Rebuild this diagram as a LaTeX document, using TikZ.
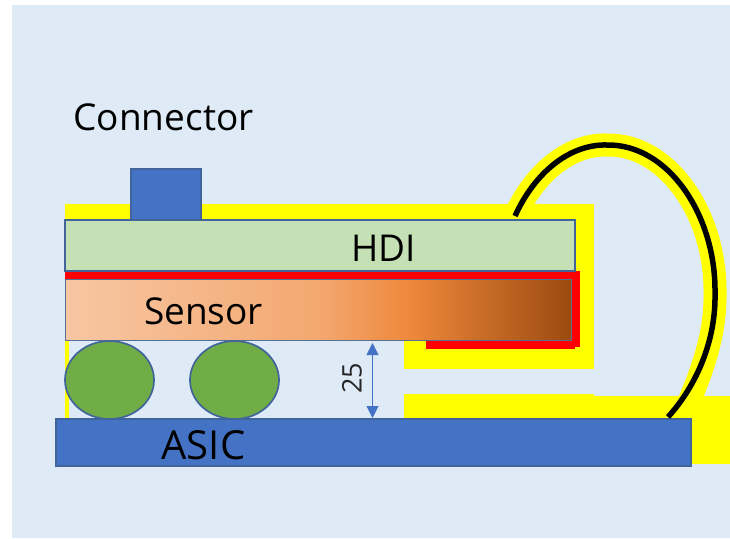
\documentclass[tikz,border=0pt]{standalone}
\usepackage{fontspec}
\setmainfont{Open Sans}
\usetikzlibrary{arrows.meta,calc,shapes.geometric}
\definecolor{panel}{HTML}{DEEAF6}
\definecolor{edgeblue}{HTML}{41659B}
\definecolor{hdigreen}{HTML}{C5E0B4}
\definecolor{asicblue}{HTML}{4472C4}
\definecolor{ballgreen}{HTML}{70AD47}
\definecolor{yel}{HTML}{FFFF00}
\definecolor{sensa}{HTML}{F7C6A3}
\definecolor{sensb}{HTML}{F3A870}
\definecolor{sensc}{HTML}{EE883C}
\definecolor{sensd}{HTML}{9C4A10}
\pgfdeclarehorizontalshading{sensorshade}{100bp}{
  color(0bp)=(sensa);
  color(25bp)=(sensa);
  color(50bp)=(sensb);
  color(59bp)=(sensc);
  color(75bp)=(sensd);
  color(100bp)=(sensd)}
\tikzset{
  x=1pt,y=-1pt,
  boxstyle/.style={draw=edgeblue,line width=1.7pt,inner sep=0pt,outer sep=0pt},
  lbl/.style={font=\fontsize{37}{42}\selectfont,text=black,inner sep=0pt},
  yelfill/.style={fill=yel,draw=none},
  redfill/.style={fill=red,draw=none},
}
\begin{document}
\begin{tikzpicture}
\useasboundingbox (0,0) rectangle (730,538);
\fill[white] (0,0) rectangle (730,538);
\fill[panel] (12,5) rectangle (730,538);
% yellow layers
\fill[yelfill] (64.5,204) rectangle (594,220);
\fill[yelfill] (404,204) rectangle (594,369);
\fill[yelfill] (64.5,340) rectangle (69,420);
\fill[yelfill] (404,394) rectangle (594,420);
\fill[yelfill] (594,396) rectangle (730,420);
\fill[yelfill] (680,396) rectangle (730,463.5);
\coordinate (wa) at (515,216);
\coordinate (wb) at (607,145);
\coordinate (wc) at (715,293);
\coordinate (wd) at (668,417);
\coordinate (wy) at (679,424);
\draw[yel,line width=23pt] (wa) .. controls (535,172) and (570,144) .. (wb)
  .. controls (668,144) and (716,215) .. (wc)
  .. controls (716,340) and (697,385) .. (wy);
% red heat spreader
\fill[redfill] (65,271) rectangle (580,280);
\fill[redfill] (571,271) rectangle (580,347);
\fill[redfill] (426,340) rectangle (575,349);
% bodies
\node[boxstyle,fill=asicblue,minimum width=635pt,minimum height=47.5pt] (asic) at (373.5,442.5) {};
\node[boxstyle,fill=hdigreen,minimum width=510.5pt,minimum height=50.5pt] (hdi) at (320,245.5) {};
\node[boxstyle,fill=asicblue,minimum width=70pt,minimum height=51pt] (conn) at (166,194.5) {};
\node[draw=edgeblue!60!gray,line width=1.3pt,inner sep=0pt,outer sep=0pt,shading=sensorshade,minimum width=506pt,minimum height=61pt] (sensor) at (318.5,310) {};
\node[boxstyle,ellipse,fill=ballgreen,minimum width=89pt,minimum height=78pt] (balla) at (109.5,380) {};
\node[boxstyle,ellipse,fill=ballgreen,minimum width=89pt,minimum height=78pt] (ballb) at (234.5,380) {};
% wire
\draw[black,line width=5.5pt] (wa) .. controls (535,172) and (570,144) .. (wb)
  .. controls (668,144) and (716,215) .. (wc)
  .. controls (716,340) and (697,385) .. (wd);
% dimension
\coordinate (dt) at (372.5,343);
\coordinate (db) at (372.5,418);
\draw[{Triangle[length=12pt,width=12pt]}-{Triangle[length=12pt,width=12pt]},color=asicblue,line width=1pt] (dt) -- (db);
% labels
\node[lbl] (tconn) at (163.5,117) {Connector};
\node[lbl] (thdi) at (383.5,248) {HDI};
\node[lbl] (tsens) at (203.5,311) {Sensor};
\node[lbl,font=\fontsize{40}{44}\selectfont] (tasic) at (203.5,445) {ASIC};
\node[font=\fontsize{27}{30}\selectfont,text=black!85,inner sep=0pt,rotate=90] (tdim) at (352,378) {25};
\end{tikzpicture}
\end{document}
